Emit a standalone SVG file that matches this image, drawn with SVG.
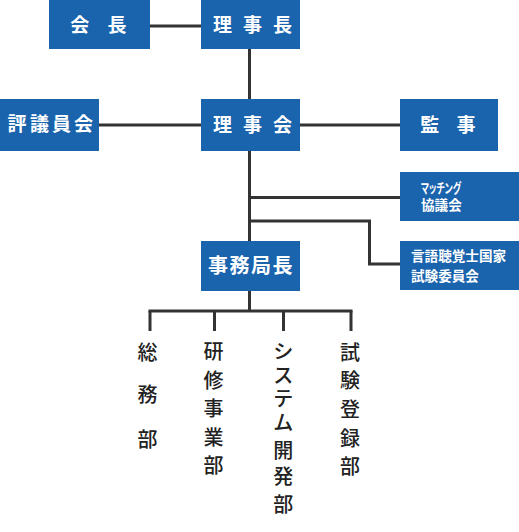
<svg xmlns="http://www.w3.org/2000/svg" width="519" height="532" viewBox="0 0 519 532">
<style>
.box{fill:#1a63ad}
.bt{fill:#fff;font-family:"Noto Sans CJK JP","Noto Sans CJK SC",sans-serif;font-weight:bold;font-size:19px;text-anchor:middle}
.st{fill:#fff;font-family:"Noto Sans CJK JP","Noto Sans CJK SC",sans-serif;font-weight:bold;font-size:13.6px}
.vt{fill:#222;font-family:"Noto Sans CJK JP","Noto Sans CJK SC",sans-serif;font-weight:500;font-size:20px;text-anchor:middle}
.ln{stroke:#333;stroke-width:3;fill:none}
</style>
<rect width="519" height="532" fill="#fff"/>
<g id="connectors">
<line class="ln" x1="150" y1="26" x2="201" y2="26"/>
<line class="ln" x1="249.5" y1="49" x2="249.5" y2="99"/>
<line class="ln" x1="99" y1="125" x2="201" y2="125"/>
<line class="ln" x1="300" y1="125" x2="400" y2="125"/>
<line class="ln" x1="249.5" y1="151" x2="249.5" y2="241"/>
<line class="ln" x1="249.5" y1="197.5" x2="400" y2="197.5"/>
<polyline class="ln" points="249.5,221 369.5,221 369.5,264 400,264"/>
<line class="ln" x1="249.5" y1="291" x2="249.5" y2="311"/>
<line class="ln" x1="148.5" y1="311" x2="352.5" y2="311"/>
<line class="ln" x1="150" y1="311" x2="150" y2="331"/>
<line class="ln" x1="214.5" y1="311" x2="214.5" y2="331"/>
<line class="ln" x1="283.5" y1="311" x2="283.5" y2="331"/>
<line class="ln" x1="351" y1="311" x2="351" y2="331"/>
</g>
<g id="kaicho">
<rect class="box" x="49" y="0" width="101" height="49"/>
<text class="bt" x="79.7 117" y="32.4">会長</text>
</g>
<g id="rijicho">
<rect class="box" x="201" y="0" width="99" height="49"/>
<text class="bt" x="222.5 252.5 282.5" y="32.4">理事長</text>
</g>
<g id="hyogiinkai">
<rect class="box" x="0" y="99" width="99" height="52"/>
<text class="bt" x="17 39.5 61.5 83.5" y="131.4">評議員会</text>
</g>
<g id="rijikai">
<rect class="box" x="201" y="99" width="99" height="52"/>
<text class="bt" x="222.5 252.5 282.5" y="132.2">理事会</text>
</g>
<g id="kanji">
<rect class="box" x="400" y="99" width="98" height="52"/>
<text class="bt" x="429.7 466" y="131.9">監事</text>
</g>
<g id="matching">
<rect class="box" x="400" y="172" width="119" height="49"/>
<text class="st" x="421" y="193" textLength="40" lengthAdjust="spacingAndGlyphs" style="font-feature-settings:'palt'">マッチング</text>
<text class="st" x="421" y="210.2">協議会</text>
</g>
<g id="shiken-iinkai">
<rect class="box" x="400" y="241" width="119" height="49"/>
<text class="st" x="411" y="261">言語聴覚士国家</text>
<text class="st" x="411" y="281">試験委員会</text>
</g>
<g id="jimukyokucho">
<rect class="box" x="201" y="241" width="99" height="50"/>
<text class="bt" style="font-size:20px" x="218 239.5 261 282.5" y="272.6">事務局長</text>
</g>
<g id="somubu">
<text class="vt"><tspan x="147.5" y="359.5">総</tspan><tspan x="147.5" y="402">務</tspan><tspan x="147.5" y="447">部</tspan></text>
</g>
<g id="kenshu">
<text class="vt"><tspan x="213.5" y="359.3">研</tspan><tspan x="213.5" y="387.8">修</tspan><tspan x="213.5" y="416.3">事</tspan><tspan x="213.5" y="444.8">業</tspan><tspan x="213.5" y="473.3">部</tspan></text>
</g>
<g id="system">
<text class="vt"><tspan x="283.3" y="359.3">シ</tspan><tspan x="283.3" y="382.5">ス</tspan><tspan x="283.3" y="406">テ</tspan><tspan x="283.3" y="429.5">ム</tspan><tspan x="283.3" y="458">開</tspan><tspan x="283.3" y="484.3">発</tspan><tspan x="283.3" y="512">部</tspan></text>
</g>
<g id="shiken-toroku">
<text class="vt"><tspan x="350" y="359.5">試</tspan><tspan x="350" y="388.2">験</tspan><tspan x="350" y="416.9">登</tspan><tspan x="350" y="445.6">録</tspan><tspan x="350" y="474.3">部</tspan></text>
</g>
</svg>
